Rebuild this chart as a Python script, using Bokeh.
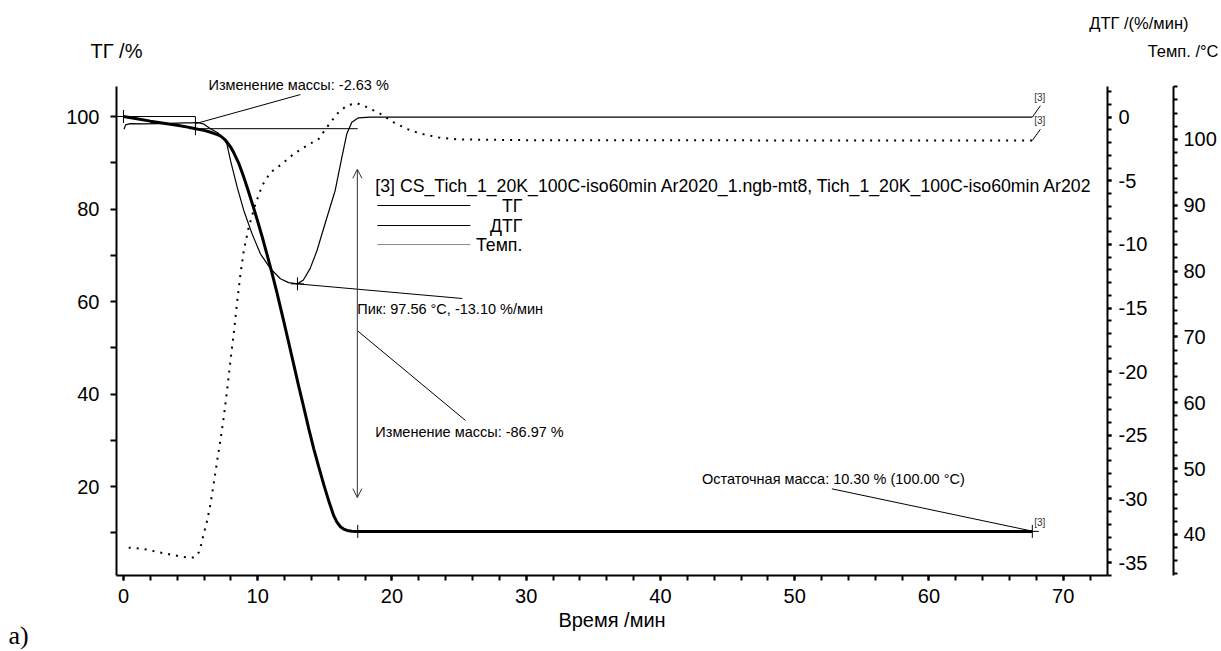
from bokeh.plotting import figure
from bokeh.layouts import column, row
from bokeh.models import Range1d, LinearAxis, FixedTicker, Arrow, OpenHead, CustomJSTickFormatter
from bokeh.core.properties import value
from bokeh.embed import file_html
from bokeh.resources import INLINE

FONT = "Liberation Sans"

# ---------------- data ----------------
tg_time = [0.0, 1.0, 2.0, 3.0, 4.0, 5.0, 5.36, 6.0, 6.5, 7.0, 7.22, 7.6, 8.0, 8.21, 8.6, 8.96,
           9.3, 9.7, 10.0, 10.33, 10.7, 11.07, 11.44, 11.94, 12.3, 12.68, 13.05, 13.43, 13.8,
           14.17, 14.55, 14.92, 15.3, 15.66, 15.9, 16.16, 16.4, 16.66, 17.0, 17.5, 30.0, 45.0,
           60.0, 67.7]
tg_mass = [100.0, 99.5, 99.0, 98.55, 98.1, 97.6, 97.37, 97.0, 96.6, 96.1, 95.8, 94.9, 93.3, 92.2,
           89.8, 86.9, 83.9, 80.2, 77.3, 74.0, 70.1, 66.1, 61.8, 55.7, 51.2, 46.4, 41.7, 37.1,
           32.5, 28.2, 24.2, 20.4, 16.8, 13.7, 12.3, 11.3, 10.8, 10.5, 10.35, 10.3, 10.3, 10.3,
           10.3, 10.3]

dtg_time = [0.05, 0.15, 0.5, 1.5, 2.5, 3.5, 4.5, 5.0, 5.5, 6.0, 6.48, 7.0, 7.47, 7.7, 7.97, 8.47,
            8.96, 9.58, 10.2, 10.95, 11.69, 12.3, 12.96, 13.4, 13.9, 14.41, 15.16, 15.77, 16.27,
            16.64, 17.01, 17.5, 18.4, 30.0, 45.0, 60.0, 67.7]
dtg_rate = [-0.95, -0.6, -0.5, -0.52, -0.5, -0.48, -0.45, -0.45, -0.42, -0.55, -0.91, -1.2, -1.7,
            -2.1, -3.4, -5.5, -7.33, -9.17, -10.74, -11.9, -12.7, -13.0, -13.1, -12.8, -11.9,
            -10.5, -7.86, -5.76, -3.14, -1.3, -0.39, -0.05, 0.0, 0.0, 0.0, 0.0, 0.0]

temp_time = [0.39, 1.51, 2.63, 3.63, 4.74, 5.29, 5.61, 5.73, 5.98, 6.23, 6.48, 6.72, 6.98, 7.22,
             7.47, 7.72, 7.97, 8.21, 8.45, 8.71, 8.96, 9.33, 9.83, 10.33, 10.95, 11.69, 12.68,
             13.68, 14.54, 15.17, 15.91, 16.66, 17.4, 18.15, 19.14, 20.13, 21.12, 22.1, 23.5,
             25.0, 30.0, 40.0, 50.0, 60.0, 67.7]
temp_value = [38.0, 37.8, 37.3, 36.9, 36.5, 36.5, 37.3, 38.0, 40.1, 42.1, 44.6, 47.7, 51.2, 54.3,
              57.8, 61.9, 66.4, 70.5, 75.0, 79.5, 83.1, 86.7, 90.2, 93.0, 95.0, 96.1, 97.8, 99.1,
              100.1, 101.9, 103.9, 105.2, 105.5, 104.9, 103.9, 102.6, 101.6, 100.9, 100.3, 100.0,
              99.9, 99.9, 99.85, 99.85, 99.85]

x_ticks = [0, 10, 20, 30, 40, 50, 60, 70]
x_minor = list(range(0, 74, 2))
tg_ticks = [20, 40, 60, 80, 100]
tg_minor = [10, 30, 50, 70, 90]
dtg_ticks = [0, -5, -10, -15, -20, -25, -30, -35]
dtg_minor = list(range(-36, 3))
temp_ticks = [40, 50, 60, 70, 80, 90, 100]
temp_minor = list(range(34, 109, 2))

# axis extents (data units) and plotted area
x_lim = (-0.52, 73.3)
tg_axis_lim = (0.76, 106.49)
dtg_axis_lim = (-36.02, 2.41)
temp_axis_lim = (33.77, 108.05)
tg_view = (0.76, 109.95)
dtg_view = (-36.02, 3.67)
temp_view = (33.77, 110.48)

# annotation values
step1_start = (0.0, 100.0)
step1_end = (5.36, 97.37)
step2_end_t = 17.45
peak_point = (12.96, -13.10)
residual_point = (67.7, 10.3)
legend_title = "[3] CS_Tich_1_20K_100C-iso60min Ar2020_1.ngb-mt8, Tich_1_20K_100C-iso60min Ar202"
legend_names = ["ТГ", "ДТГ", "Темп."]
legend_colors = ["black", "black", "#8a8a8a"]
legend_y = [80.76, 76.43, 72.32]


def blank_fig(w, h):
    f = figure(width=w, height=h, output_backend="svg", toolbar_location=None,
               x_range=Range1d(0, w), y_range=Range1d(h, 0), x_axis_type=None, y_axis_type=None,
               min_border_left=0, min_border_right=0, min_border_top=0, min_border_bottom=0,
               background_fill_color="white", border_fill_color="white")
    f.outline_line_color = None
    f.xgrid.visible = False
    f.ygrid.visible = False
    f.frame_align = False
    return f


# ---------------- top strip (axis titles) ----------------
top = blank_fig(1221, 70)
top.text([90], [50], text=["ТГ /%"], text_font=value(FONT), text_font_size="20px",
         text_color="black", text_align="left", text_baseline="middle")
top.text([1188], [22], text=["ДТГ /(%/мин)"], text_font=value(FONT), text_font_size="16.5px",
         text_color="black", text_align="right", text_baseline="middle")
top.text([1218], [50], text=["Темп. /°C"], text_font=value(FONT), text_font_size="16.5px",
         text_color="black", text_align="right", text_baseline="middle")

# ---------------- left strip ("a)") ----------------
left = blank_fig(40, 581)
left.text([8], [565], text=["a)"], text_font=value("Liberation Serif"), text_font_size="26px",
          text_color="black", text_align="left", text_baseline="middle")

# ---------------- main figure ----------------
p = figure(width=1181, height=581, output_backend="svg", toolbar_location=None,
           x_range=Range1d(*x_lim), y_range=Range1d(*tg_view),
           min_border_left=76, min_border_right=114, min_border_top=0, min_border_bottom=76,
           background_fill_color="white", border_fill_color="white")
p.outline_line_color = None
p.xgrid.visible = False
p.ygrid.visible = False
p.frame_align = False
p.extra_y_ranges = {"dtg": Range1d(*dtg_view), "temp": Range1d(*temp_view)}


def style_axis(ax, tick_out, standoff):
    ax.axis_line_width = 2
    ax.axis_line_color = "black"
    ax.major_tick_line_width = 2
    ax.minor_tick_line_width = 2
    ax.major_tick_line_color = "black"
    ax.minor_tick_line_color = "black"
    ax.major_tick_in = 0
    ax.minor_tick_in = 0
    ax.major_tick_out = tick_out
    ax.minor_tick_out = tick_out
    ax.major_label_text_font = FONT
    ax.major_label_text_font_size = "20px"
    ax.major_label_text_color = "black"
    ax.major_label_standoff = standoff


xa = p.xaxis[0]
xa.ticker = FixedTicker(ticks=x_ticks, minor_ticks=x_minor)
style_axis(xa, 5, 8)
xa.axis_label = "Время /мин"
xa.axis_label_text_font = FONT
xa.axis_label_text_font_size = "20px"
xa.axis_label_text_font_style = "normal"
xa.axis_label_text_color = "black"
xa.axis_label_standoff = 3

ya = p.yaxis[0]
ya.ticker = FixedTicker(ticks=tg_ticks, minor_ticks=tg_minor)
ya.bounds = tg_axis_lim
style_axis(ya, 6, 11)

dtg_axis = LinearAxis(y_range_name="dtg", ticker=FixedTicker(ticks=dtg_ticks, minor_ticks=dtg_minor),
                      formatter=CustomJSTickFormatter(code="return tick.toFixed(0);"))
dtg_axis.bounds = dtg_axis_lim
style_axis(dtg_axis, 4, 7)
dtg_axis.axis_label = " "
dtg_axis.axis_label_text_font_size = "14px"
dtg_axis.axis_label_standoff = 4
p.add_layout(dtg_axis, "right")

temp_axis = LinearAxis(y_range_name="temp", ticker=FixedTicker(ticks=temp_ticks, minor_ticks=temp_minor))
temp_axis.bounds = temp_axis_lim
style_axis(temp_axis, 4, 6)
p.add_layout(temp_axis, "right")

# ---------------- curves ----------------
p.line(temp_time, temp_value, y_range_name="temp", line_color="black", line_width=2,
       line_dash="2 6")
p.line(dtg_time, dtg_rate, y_range_name="dtg", line_color="black", line_width=1.2)
p.line(tg_time, tg_mass, line_color="black", line_width=3)

# ---------------- annotations ----------------
ann = dict(line_color="black", line_width=1)
# mass change step 1
p.line([step1_start[0], step1_end[0]], [100.0, 100.0], **ann)
p.line([step1_end[0], step1_end[0]], [100.0, step1_end[1]], **ann)
p.line([step1_end[0], step2_end_t], [step1_end[1], step1_end[1]], **ann)
p.line([5.36, 13.18], [98.45, 104.75], **ann)
p.scatter([step1_start[0], step1_end[0], 17.45, residual_point[0]],
          [step1_start[1], step1_end[1], 10.3, residual_point[1]],
          marker="cross", size=13, line_color="black", line_width=1)

# mass change step 2
p.add_layout(Arrow(start=OpenHead(size=9, line_width=1, line_color="#333333"),
                   end=OpenHead(size=9, line_width=1, line_color="#333333"),
                   x_start=17.42, y_start=17.6, x_end=17.42, y_end=88.6,
                   line_width=1, line_color="#333333"))
p.line([17.42, 25.47], [53.7, 34.3], **ann)

# DTG peak
p.scatter([peak_point[0]], [peak_point[1]], y_range_name="dtg", marker="cross", size=13,
          line_color="black", line_width=1)
p.line([peak_point[0], 25.24], [peak_point[1], -14.25], y_range_name="dtg", **ann)

# residual mass
p.line([52.77, residual_point[0]], [19.5, residual_point[1] + 0.05], **ann)

# curve end tags
p.line([67.7, 68.3], [0.0, 0.9], y_range_name="dtg", **ann)
p.line([67.7, 68.3], [99.85, 101.55], y_range_name="temp", **ann)

tag_kw = dict(text_font=value(FONT), text_font_size="10px", text_color="#333333",
              text_align="center", text_baseline="middle")
p.text([68.25], [1.55], text=["[3]"], y_range_name="dtg", **tag_kw)
p.text([68.25], [102.95], text=["[3]"], y_range_name="temp", **tag_kw)
p.text([68.25], [12.3], text=["[3]"], **tag_kw)

# text labels inside the plot
txt = dict(text_font=value(FONT), text_font_size="14.5px", text_color="black",
           text_align="left", text_baseline="middle")
p.text([6.33], [106.92], text=["Изменение массы: -2.63 %"], **txt)
p.text([18.76], [31.7], text=["Изменение массы: -86.97 %"], **txt)
p.text([17.42], [-15.04], text=["Пик: 97.56 °C, -13.10 %/мин"], y_range_name="dtg", **txt)
p.text([43.1], [21.73], text=["Остаточная масса: 10.30 % (100.00 °C)"], **txt)

# legend block
p.text([18.76], [85.08], text=[legend_title], text_font=value(FONT), text_font_size="17.7px",
       text_color="black", text_align="left", text_baseline="middle")
for col, yy in zip(legend_colors, legend_y):
    p.line([18.91, 25.84], [yy, yy], line_color=col, line_width=1)
p.text([29.71] * 3, legend_y, text=legend_names, text_font=value(FONT), text_font_size="17.7px",
       text_color="black", text_align="right", text_baseline="middle")

layout = column(top, row(left, p, spacing=0), spacing=0)
open("out.html", "w").write(file_html(layout, INLINE))
